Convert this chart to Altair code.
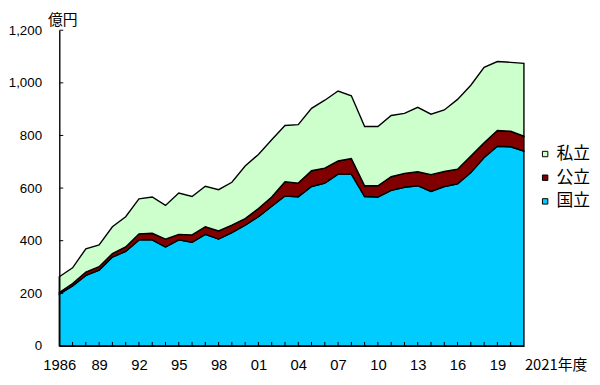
import altair as alt
import pandas as pd

years = list(range(1986, 2022))
kokuritsu = [197, 228, 268, 288, 338, 359, 403, 403, 376, 403, 394, 424, 406, 431, 459, 491, 531, 570,
             567, 606, 619, 653, 653, 568, 566, 591, 603, 609, 587, 606, 616, 659, 716, 759, 757, 741]
koritsu = [6, 9, 13, 13, 13, 17, 23, 25, 30, 21, 28, 29, 31, 28, 25, 31, 35, 54,
           52, 60, 57, 50, 59, 41, 43, 52, 53, 53, 64, 57, 56, 63, 56, 60, 59, 56]
shiritsu = [60, 60, 88, 83, 102, 115, 133, 138, 128, 157, 146, 154, 157, 163, 200, 206, 218, 214,
            222, 237, 258, 266, 239, 225, 225, 233, 228, 245, 230, 234, 265, 269, 287, 262, 262, 277]

series_names = ["私立", "公立", "国立"]
series_colors = ["#CCFFCC", "#800000", "#00CCFF"]
x_label_years = list(range(1986, 2020, 3))
x_tick_years = list(range(1987, 2021))
y_tick_values = [200, 400, 600, 800, 1000, 1200]
last_label_year = [2021]
last_label_text = ["2021年度"]
unit_label = "億円"

rows = []
for name, vals, o in [("国立", kokuritsu, 0), ("公立", koritsu, 1), ("私立", shiritsu, 2)]:
    for yr, v in zip(years, vals):
        rows.append({"year": yr, "series": name, "value": v, "ord": o})
df = pd.DataFrame(rows)

LAT = "Liberation Sans"
CJK = "Noto Sans CJK JP"

xscale = alt.Scale(domain=[1986, 2021], nice=False, zero=False)
yscale = alt.Scale(domain=[0, 1200], nice=False)

area = alt.Chart(df).mark_area(stroke="black", strokeWidth=1.4, opacity=1, interpolate="linear").encode(
    x=alt.X("year:Q", scale=xscale,
            axis=alt.Axis(values=x_label_years, title=None, grid=False, ticks=False, tickSize=0,
                          labelExpr="datum.value == 1986 ? '1986' : substring(toString(datum.value), 2)",
                          labelFont=LAT, labelFontSize=15, labelColor="black", labelPadding=12,
                          domainColor="black", domainWidth=1.4, labelFlush=False, labelOverlap=False, zindex=1)),
    y=alt.Y("value:Q", stack="zero", scale=yscale,
            axis=alt.Axis(values=[0] + y_tick_values, format=",d", grid=False, ticks=False, tickSize=0,
                          labelFont=LAT, labelFontSize=13.5, labelColor="black", labelPadding=18,
                          domainColor="black", domainWidth=1.4, zindex=1,
                          title=unit_label, titleAngle=0, titleX=3, titleY=-6, titleAlign="center",
                          titleBaseline="alphabetic", titleFont=CJK, titleFontSize=15,
                          titleFontWeight="normal", titleColor="black")),
    color=alt.Color("series:N", scale=alt.Scale(domain=series_names, range=series_colors),
                    legend=alt.Legend(title=None, orient="none", legendX=484, legendY=117,
                                      symbolType="square", symbolSize=30, symbolStrokeColor="black",
                                      symbolStrokeWidth=1, symbolOpacity=1,
                                      labelFont=CJK, labelFontSize=17, labelColor="black",
                                      labelOffset=3, rowPadding=6, padding=0)),
    order=alt.Order("ord:Q", sort="ascending"),
)

xticks = alt.Chart(pd.DataFrame({"year": x_tick_years})).mark_rule(color="black", strokeWidth=1).encode(
    x=alt.X("year:Q", scale=xscale),
    y=alt.value(320), y2=alt.value(316),
)
yticks = alt.Chart(pd.DataFrame({"v": y_tick_values})).mark_rule(color="black", strokeWidth=1).encode(
    y=alt.Y("v:Q", scale=yscale),
    x=alt.value(0), x2=alt.value(4),
)
lastlab = alt.Chart(pd.DataFrame({"year": last_label_year, "t": last_label_text})).mark_text(
    align="left", baseline="alphabetic", font=CJK, fontSize=15, color="black", dx=1
).encode(
    x=alt.X("year:Q", scale=xscale),
    y=alt.value(344),
    text="t:N",
)

chart = alt.layer(area, xticks, yticks, lastlab).properties(
    width=471, height=320,
    autosize=alt.AutoSizeParams(type="none"),
    padding={"left": 52, "top": 20, "right": 69, "bottom": 30},
).configure_view(stroke=None)

chart.save("out.html", embed_options={"renderer": "svg", "actions": False})
